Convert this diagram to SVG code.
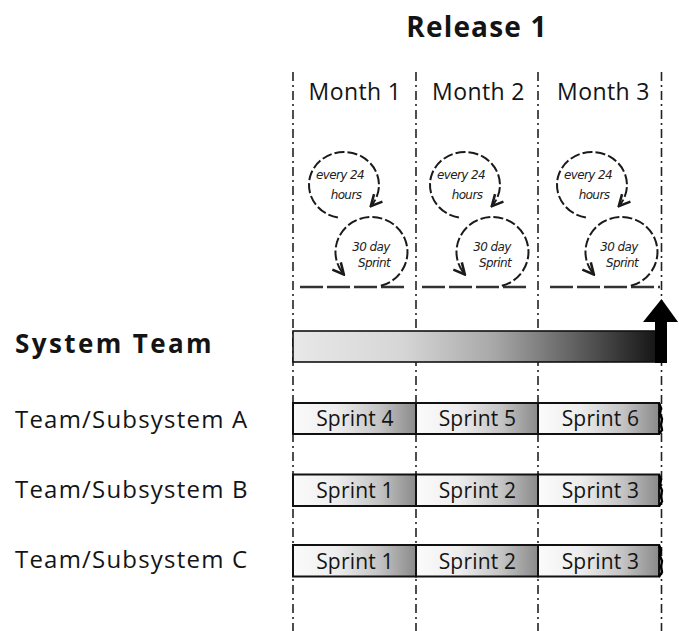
<svg xmlns="http://www.w3.org/2000/svg" width="679" height="631" viewBox="0 0 679 631">
<defs>
<style>
.t{font-family:"Open Sans","DejaVu Sans",sans-serif;fill:#141414}
.title{font-size:28px;font-weight:bold;letter-spacing:1.2px}
.month{font-size:23px;letter-spacing:0.4px}
.lbl{font-size:24px;letter-spacing:1.2px}
.sys{font-size:26px;font-weight:bold;letter-spacing:2.4px}
.spr{font-size:21px;text-anchor:middle;letter-spacing:0.2px}
.hand{font-family:"DejaVu Sans",sans-serif;font-style:italic;font-size:12px;fill:#222;text-anchor:middle;letter-spacing:-0.6px}
.grid{stroke:#222;stroke-width:1.6;stroke-dasharray:9 4 2 4;fill:none}
.cyc{stroke:#1a1a1a;stroke-width:2;stroke-dasharray:10 3;fill:none;marker-end:url(#ah)}
.ground{stroke:#333;stroke-width:2.6;stroke-dasharray:23 4;fill:none}
.seg{fill:url(#sg);stroke:#111;stroke-width:2}
</style>
<linearGradient id="sys" x1="0" y1="0" x2="1" y2="0">
<stop offset="0" stop-color="#e8e8e8"/>
<stop offset="0.3" stop-color="#d6d6d6"/>
<stop offset="0.55" stop-color="#a8a8a8"/>
<stop offset="0.78" stop-color="#5e5e5e"/>
<stop offset="1" stop-color="#141414"/>
</linearGradient>
<linearGradient id="sg" x1="0" y1="0" x2="1" y2="0">
<stop offset="0" stop-color="#fbfbfb"/>
<stop offset="0.35" stop-color="#eeeeee"/>
<stop offset="0.7" stop-color="#c4c4c4"/>
<stop offset="1" stop-color="#8a8a8a"/>
</linearGradient>
<marker id="ah" markerUnits="userSpaceOnUse" markerWidth="14" markerHeight="14" viewBox="0 0 10 10" refX="9" refY="5" orient="auto">
<path d="M1,1 L9,5 L1,9" fill="none" stroke="#1a1a1a" stroke-width="1.8"/>
</marker>
</defs>
<rect width="679" height="631" fill="#ffffff"/>

<g id="grid">
<line class="grid" x1="293" y1="72" x2="293" y2="631"/>
<line class="grid" x1="416" y1="72" x2="416" y2="631"/>
<line class="grid" x1="538" y1="72" x2="538" y2="631"/>
<line class="grid" x1="661.5" y1="72" x2="661.5" y2="631"/>
</g>

<g id="release-title"><text class="t title" x="477" y="37" text-anchor="middle">Release 1</text></g>
<g id="month-1"><text class="t month" x="355" y="100" text-anchor="middle">Month 1</text></g>
<g id="month-2"><text class="t month" x="478.5" y="100" text-anchor="middle">Month 2</text></g>
<g id="month-3"><text class="t month" x="603.5" y="100" text-anchor="middle">Month 3</text></g>

<g id="cycle-1">
<line class="ground" x1="300" y1="287" x2="408" y2="287"/>
<text class="hand" x="340" y="179">every 24</text>
<text class="hand" x="346" y="199">hours</text>
<text class="hand" x="371" y="251">30 day</text>
<text class="hand" x="374" y="267">Sprint</text>
</g>
<g id="cycle-2">
<line class="ground" x1="422" y1="287" x2="528" y2="287"/>
<text class="hand" x="461" y="179">every 24</text>
<text class="hand" x="467" y="199">hours</text>
<text class="hand" x="492" y="251">30 day</text>
<text class="hand" x="495" y="267">Sprint</text>
</g>
<g id="cycle-3">
<line class="ground" x1="550" y1="287" x2="660" y2="287"/>
<text class="hand" x="588" y="179">every 24</text>
<text class="hand" x="594" y="199">hours</text>
<text class="hand" x="619" y="251">30 day</text>
<text class="hand" x="622" y="267">Sprint</text>
</g>

<g id="connectors">
<path class="cyc" d="M337.9,217.5 A35,33 0 1 1 370.8,206.2"/>
<path class="cyc" d="M380.8,285.8 A36,35 0 1 0 343.9,274.5"/>
<path class="cyc" d="M458.9,217.5 A35,33 0 1 1 491.8,206.2"/>
<path class="cyc" d="M501.8,285.8 A36,35 0 1 0 464.9,274.5"/>
<path class="cyc" d="M585.9,217.5 A35,33 0 1 1 618.8,206.2"/>
<path class="cyc" d="M630.8,285.8 A36,35 0 1 0 593.9,274.5"/>
</g>

<g id="system-team">
<text class="t sys" x="15" y="353">System Team</text>
<rect x="293" y="331" width="365" height="31" fill="url(#sys)" stroke="#111" stroke-width="1.6"/>
<rect x="655" y="318" width="12" height="45" fill="#000"/>
<polygon points="643,322 661.5,299 678,322" fill="#000"/>
</g>

<g id="team-a">
<text class="t lbl" x="15" y="428">Team/Subsystem A</text>
<rect class="seg" x="293" y="403" width="123" height="31"/>
<rect class="seg" x="416" y="403" width="122" height="31"/>
<rect class="seg" x="538" y="403" width="121" height="31"/>
<path d="M659,403 l2,5 l-1,6 l2,5 l-1,6 l1,5 l-3,4" fill="none" stroke="#000" stroke-width="2.4"/>
<text class="t spr" x="355" y="426">Sprint 4</text>
<text class="t spr" x="477.5" y="426">Sprint 5</text>
<text class="t spr" x="600.5" y="426">Sprint 6</text>
</g>

<g id="team-b">
<text class="t lbl" x="15" y="498">Team/Subsystem B</text>
<rect class="seg" x="293" y="474.5" width="123" height="31.5"/>
<rect class="seg" x="416" y="474.5" width="122" height="31.5"/>
<rect class="seg" x="538" y="474.5" width="121" height="31.5"/>
<path d="M659,474.5 l2,5 l-1,6 l2,5 l-1,6 l1,5 l-3,5" fill="none" stroke="#000" stroke-width="2.4"/>
<text class="t spr" x="355" y="498">Sprint 1</text>
<text class="t spr" x="477.5" y="498">Sprint 2</text>
<text class="t spr" x="600.5" y="498">Sprint 3</text>
</g>

<g id="team-c">
<text class="t lbl" x="15" y="568">Team/Subsystem C</text>
<rect class="seg" x="293" y="545" width="123" height="31.5"/>
<rect class="seg" x="416" y="545" width="122" height="31.5"/>
<rect class="seg" x="538" y="545" width="121" height="31.5"/>
<path d="M659,545 l2,5 l-1,6 l2,5 l-1,6 l1,5 l-3,5" fill="none" stroke="#000" stroke-width="2.4"/>
<text class="t spr" x="355" y="568.5">Sprint 1</text>
<text class="t spr" x="477.5" y="568.5">Sprint 2</text>
<text class="t spr" x="600.5" y="568.5">Sprint 3</text>
</g>
</svg>
